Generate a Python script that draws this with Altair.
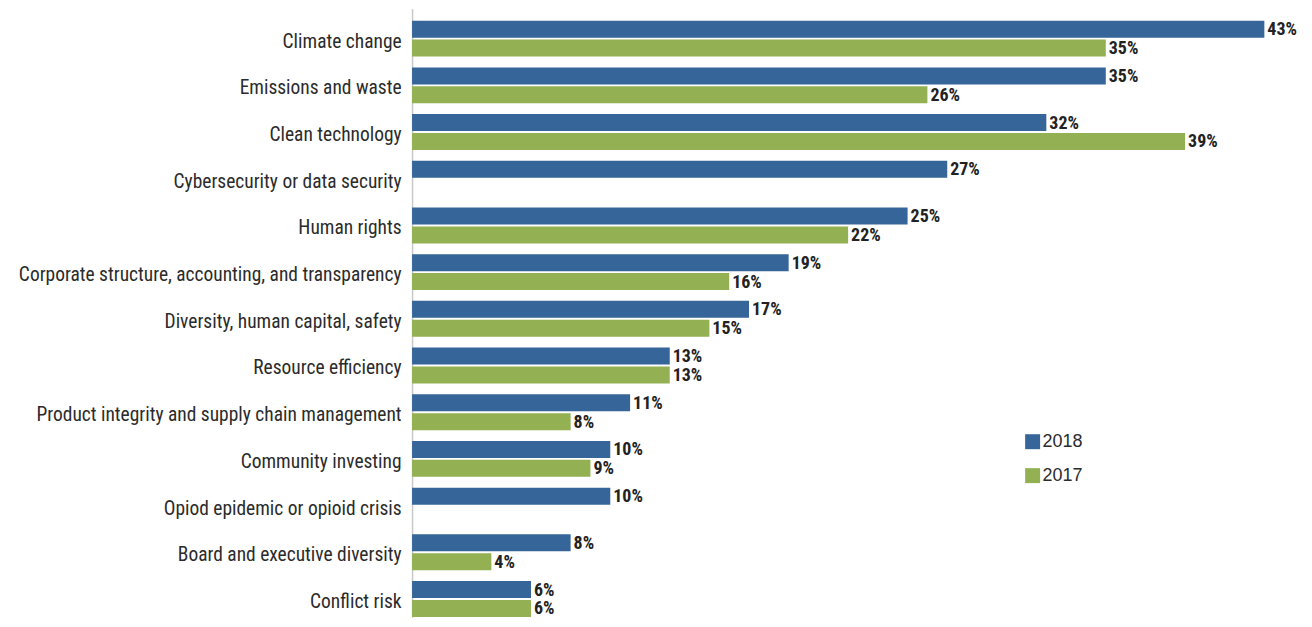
import altair as alt
import pandas as pd

categories = [
    "Climate change",
    "Emissions and waste",
    "Clean technology",
    "Cybersecurity or data security",
    "Human rights",
    "Corporate structure, accounting, and transparency",
    "Diversity, human capital, safety",
    "Resource efficiency",
    "Product integrity and supply chain management",
    "Community investing",
    "Opiod epidemic or opioid crisis",
    "Board and executive diversity",
    "Conflict risk",
]
values_2018 = [43, 35, 32, 27, 25, 19, 17, 13, 11, 10, 10, 8, 6]
values_2017 = [35, 26, 39, None, 22, 16, 15, 13, 8, 9, None, 4, 6]
years = ["2018", "2017"]
colors = ["#366599", "#93B152"]

rows = []
for c, v18, v17 in zip(categories, values_2018, values_2017):
    if v18 is not None:
        rows.append({"category": c, "year": "2018", "value": v18, "label": f"{v18}%"})
    if v17 is not None:
        rows.append({"category": c, "year": "2017", "value": v17, "label": f"{v17}%"})
df = pd.DataFrame(rows)

FONT = "Liberation Sans Narrow, Roboto Condensed, Arial Narrow, Liberation Sans, sans-serif"

y_enc = alt.Y(
    "category:N",
    sort=categories,
    scale=alt.Scale(paddingInner=0.2308, paddingOuter=0.1325, align=0.97),
    axis=alt.Axis(
        title=None,
        ticks=False,
        labelPadding=11,
        labelFont=FONT,
        labelFontSize=19.5,
        labelColor="#2b2b2b",
        labelOffset=3,
        labelLimit=500,
        domainColor="#c8c8c8",
        domainWidth=1.5,
    ),
)
yoff_enc = alt.YOffset(
    "year:N",
    sort=years,
    scale=alt.Scale(domain=years, paddingInner=0.1, paddingOuter=0),
)
x_enc = alt.X(
    "value:Q",
    scale=alt.Scale(domain=[0, 45], nice=False, zero=True),
    axis=None,
)

bars = alt.Chart(df).mark_bar().encode(
    y=y_enc,
    yOffset=yoff_enc,
    x=x_enc,
    color=alt.Color(
        "year:N",
        scale=alt.Scale(domain=years, range=colors),
        legend=alt.Legend(
            title=None,
            orient="none",
            legendX=613,
            legendY=425,
            symbolType="square",
            symbolSize=225,
            symbolStrokeWidth=0,
            symbolOpacity=1,
            labelFont="Liberation Sans, Arial, sans-serif",
            labelFontSize=18,
            labelColor="#2b2b2b",
            labelOffset=1,
            rowPadding=16,
        ),
    ),
)

texts = alt.Chart(df).mark_text(
    align="left",
    baseline="middle",
    dx=3,
    dy=1,
    font=FONT,
    fontSize=18,
    fontWeight="bold",
    color="#222222",
).encode(
    y=y_enc,
    yOffset=yoff_enc,
    x=x_enc,
    text="label:N",
)

chart = (
    alt.layer(bars, texts)
    .properties(
        width=894,
        height=610,
        autosize=alt.AutoSizeParams(type="none"),
        padding={"left": 405, "top": 0, "right": 0, "bottom": 0},
    )
    .configure_view(stroke=None)
)

chart.save("out.html", embed_options={"renderer": "svg", "actions": False})
